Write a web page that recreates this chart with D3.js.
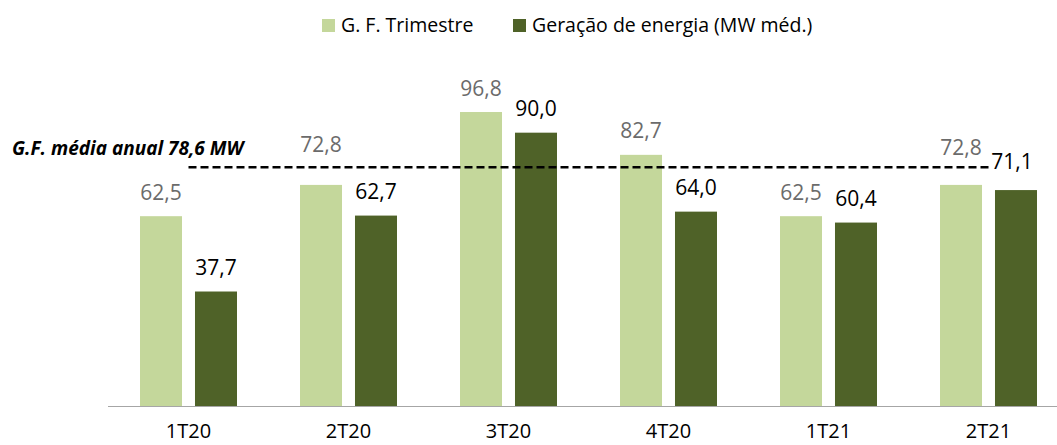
<!DOCTYPE html>
<html>
<head>
<meta charset="utf-8">
<script src="https://cdn.jsdelivr.net/npm/d3@7"></script>
<style>
  body { margin: 0; background: #fff; }
  #chart { width: 1057px; height: 445px; }
  text { font-family: "Open Sans", sans-serif; }
</style>
</head>
<body>
<div id="chart"></div>
<script>
// data
const categories = ["1T20", "2T20", "3T20", "4T20", "1T21", "2T21"];
const seriesNames = ["G. F. Trimestre", "Geração de energia (MW méd.)"];
const gfTrimestre = [62.5, 72.8, 96.8, 82.7, 62.5, 72.8];
const geracao = [37.7, 62.7, 90.0, 64.0, 60.4, 71.1];
const gfMediaAnual = 78.6;
const gfMediaLabel = "G.F. média anual 78,6 MW";

const colors = ["#c4d79b", "#4f6228"];
const labelColors = ["#6b6b6b", "#000"];

document.addEventListener("DOMContentLoaded", () => {
    const width = 1057, height = 445;
    const svg = d3.select("#chart").append("svg")
        .attr("width", width)
        .attr("height", height);

    const x = d3.scaleBand()
        .domain(categories)
        .range([108.5, 1068.5]);

    const xInner = d3.scaleBand()
        .domain([0, 1])
        .range([0, x.bandwidth()])
        .paddingInner(0.236)
        .paddingOuter(0.573);

    const y = d3.scaleLinear()
        .domain([0, 100])
        .range([406, 102.3]);

    const fmt = v => d3.format(".1f")(v).replace(".", ",");

    const rows = categories.map((c, i) => ({ cat: c, values: [gfTrimestre[i], geracao[i]] }));

    // bars
    const groups = svg.selectAll("g.cat")
        .data(rows)
        .enter()
        .append("g")
        .attr("class", "cat")
        .attr("transform", d => `translate(${x(d.cat)},0)`);

    groups.selectAll("rect")
        .data(d => d.values.map((v, s) => ({ v, s })))
        .enter()
        .append("rect")
        .attr("x", d => xInner(d.s))
        .attr("y", d => y(d.v))
        .attr("width", xInner.bandwidth())
        .attr("height", d => y(0) - y(d.v))
        .attr("fill", d => colors[d.s]);

    // nudges for labels that were moved clear of the dashed line
    const nudge = { "1-0": -16, "5-0": -13, "5-1": -5 };
    const nudgeX = { "5-1": -4 };

    groups.each(function (d, ci) {
        d3.select(this).selectAll("text.val")
            .data(d.values.map((v, s) => ({ v, s })))
            .enter()
            .append("text")
            .attr("class", "val")
            .attr("x", e => xInner(e.s) + xInner.bandwidth() / 2 + (nudgeX[ci + "-" + e.s] || 0))
            .attr("y", e => y(e.v) - 16.5 + (nudge[ci + "-" + e.s] || 0))
            .attr("text-anchor", "middle")
            .attr("font-size", "21px")
            .attr("fill", e => labelColors[e.s])
            .text(e => fmt(e.v));
    });

    // x axis line and labels
    svg.append("line")
        .attr("x1", 108).attr("x2", width)
        .attr("y1", y(0) + 0.5).attr("y2", y(0) + 0.5)
        .attr("stroke", "#a6a6a6")
        .attr("stroke-width", 1);

    svg.selectAll("text.cat")
        .data(categories)
        .enter()
        .append("text")
        .attr("class", "cat")
        .attr("x", d => x(d) + x.bandwidth() / 2)
        .attr("y", 438)
        .attr("text-anchor", "middle")
        .attr("font-size", "20px")
        .attr("fill", "#000")
        .text(d => d);

    // annual average dashed line
    const first = categories[0], last = categories[categories.length - 1];
    svg.append("line")
        .attr("x1", x(first) + x.bandwidth() / 2)
        .attr("x2", x(last) + x.bandwidth() / 2)
        .attr("y1", y(gfMediaAnual))
        .attr("y2", y(gfMediaAnual))
        .attr("stroke", "#000")
        .attr("stroke-width", 2.5)
        .attr("stroke-dasharray", "8,4");

    svg.append("text")
        .attr("x", 12)
        .attr("y", 155)
        .attr("font-size", "19px")
        .attr("font-weight", "bold")
        .attr("font-style", "italic")
        .attr("fill", "#000")
        .text(gfMediaLabel);

    // legend
    const legendX = [322, 513];
    const legend = svg.selectAll("g.legend")
        .data(seriesNames)
        .enter()
        .append("g")
        .attr("class", "legend")
        .attr("transform", (d, i) => `translate(${legendX[i]},19)`);

    legend.append("rect")
        .attr("width", 13)
        .attr("height", 13)
        .attr("fill", (d, i) => colors[i]);

    legend.append("text")
        .attr("x", 19)
        .attr("y", 13)
        .attr("font-size", "19.5px")
        .attr("fill", "#000")
        .text(d => d);
});
</script>
</body>
</html>
